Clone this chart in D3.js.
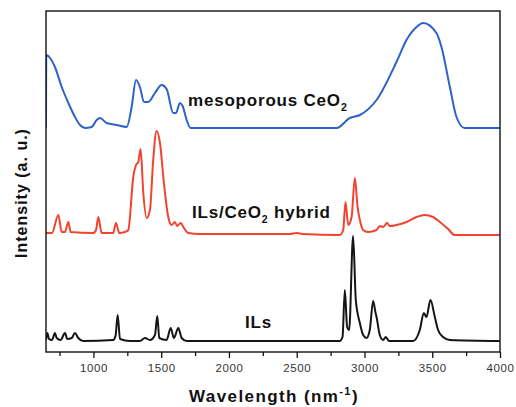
<!DOCTYPE html>
<html><head><meta charset="utf-8">
<script src="https://cdn.jsdelivr.net/npm/d3@7"></script>
<style>body{margin:0;background:#fff}svg{display:block}</style>
</head><body>
<script>
// Wavenumber values and relative intensity (a.u.)
const ceo2 = [[650,224],[652,297],[680,294],[716,285],[766,265],[815,249],[864,235],[901,227],[938,224],[987,225],[1024,232],[1048,234],[1098,229],[1171,227],[1245,225],[1282,245],[1314,272],[1343,265],[1373,250],[1404,250],[1454,259],[1503,267],[1540,263],[1589,239],[1609,239],[1638,249],[1658,246],[1688,232],[1717,224],[1786,224],[2155,224],[2523,224],[2794,224],[2892,234],[2966,237],[3089,252],[3236,290],[3310,312],[3384,325],[3433,329],[3531,319],[3568,305],[3630,265],[3679,235],[3740,224],[3998,224]];
const hybrid = [[650,119],[694,119],[741,137],[766,120],[790,120],[815,130],[832,120],[999,119],[1019,122],[1036,135],[1061,119],[1146,119],[1166,129],[1191,119],[1233,120],[1257,122],[1294,175],[1314,187],[1331,190],[1348,203],[1368,159],[1393,134],[1417,142],[1441,192],[1466,221],[1491,209],[1520,169],[1552,135],[1577,127],[1601,130],[1618,126],[1643,129],[1668,124],[1699,119],[1786,118],[2450,118],[2499,119],[2545,118],[2818,117],[2843,122],[2860,150],[2880,127],[2905,135],[2929,174],[2949,145],[2971,129],[2990,122],[3027,120],[3089,122],[3113,126],[3138,125],[3167,129],[3187,126],[3236,127],[3310,130],[3384,135],[3445,137],[3506,135],[3556,130],[3617,123],[3666,117],[3998,117]];
const ils = [[650,12],[660,19],[672,13],[694,12],[716,19],[729,14],[758,12],[790,19],[807,13],[840,14],[864,19],[888,14],[925,11],[1146,12],[1163,16],[1179,37],[1196,13],[1270,11],[1343,11],[1380,14],[1417,12],[1454,17],[1471,36],[1486,14],[1540,12],[1570,24],[1594,14],[1626,24],[1651,14],[1688,11],[2818,11],[2838,15],[2855,62],[2872,25],[2887,22],[2916,116],[2936,52],[2966,29],[2990,17],[3015,14],[3039,22],[3064,51],[3082,39],[3089,35],[3113,17],[3138,12],[3157,15],[3182,11],[3359,11],[3408,22],[3438,39],[3457,35],[3487,52],[3519,35],[3543,22],[3580,15],[3630,12],[3998,11]];
const xMajorTicks = [1000,1500,2000,2500,3000,3500,4000];
const xMinorTicks = [750,1250,1750,2250,2750,3250,3750];
const seriesNames = ["mesoporous CeO","ILs/CeO","ILs"];
const xDomain = [650,4000];
const yDomain = [0,341];

const W=516,H=407;
const m={l:46,r:16,t:11,b:55};
const svg=d3.select("body").append("svg").attr("width",W).attr("height",H);
const x=d3.scaleLinear().domain(xDomain).range([m.l,W-m.r]);
const y=d3.scaleLinear().domain(yDomain).range([H-m.b,m.t]);
const line=d3.line().x(d=>x(d[0])).y(d=>y(d[1])).curve(d3.curveMonotoneX);

svg.append("clipPath").attr("id","c").append("rect")
  .attr("x",m.l).attr("y",m.t).attr("width",W-m.l-m.r).attr("height",H-m.t-m.b);
const g=svg.append("g").attr("clip-path","url(#c)");
[[ceo2,"#2d62c6"],[hybrid,"#f2432f"],[ils,"#151515"]].forEach(([d,c])=>{
  g.append("path").datum(d).attr("d",line).attr("fill","none")
   .attr("stroke",c).attr("stroke-width",2).attr("stroke-linejoin","round");
});

// frame
svg.append("rect").attr("x",m.l).attr("y",m.t).attr("width",W-m.l-m.r).attr("height",H-m.t-m.b)
  .attr("fill","none").attr("stroke","#111").attr("stroke-width",1.4);

// x axis
const ax=svg.append("g").attr("transform",`translate(0,${H-m.b})`)
  .call(d3.axisBottom(x).tickValues(xMajorTicks).tickSize(6).tickPadding(6).tickFormat(d3.format("d")));
ax.select(".domain").remove();
ax.selectAll("line").attr("stroke","#111").attr("stroke-width",1.3);
ax.selectAll("text").attr("font-family","Liberation Sans, Arial, sans-serif").attr("font-size",11.5)
  .attr("fill","#333").attr("letter-spacing","0.6px");
const axm=svg.append("g").attr("transform",`translate(0,${H-m.b})`)
  .call(d3.axisBottom(x).tickValues(xMinorTicks).tickSize(4).tickFormat(""));
axm.select(".domain").remove();
axm.selectAll("line").attr("stroke","#111").attr("stroke-width",1.3);

const font="Liberation Sans, Arial, sans-serif";
// axis titles
const xt=svg.append("text").attr("x",(m.l+W-m.r)/2+1).attr("y",402).attr("text-anchor","middle")
  .attr("font-family",font).attr("font-weight","bold").attr("font-size",17).attr("letter-spacing","1.4px").attr("fill","#111");
xt.append("tspan").text("Wavelength\u00a0(nm");
xt.append("tspan").attr("font-size",11).attr("dy",-7).text("-1");
xt.append("tspan").attr("dy",7).text(")");

svg.append("text").attr("transform","translate(27,193) rotate(-90)").attr("text-anchor","middle")
  .attr("font-family",font).attr("font-weight","bold").attr("font-size",16).attr("letter-spacing","1px")
  .attr("fill","#111").text("Intensity (a. u.)");

// series labels
function label(xp,yp,main,sub,rest){
  const t=svg.append("text").attr("x",xp).attr("y",yp).attr("font-family",font).attr("font-weight","bold")
    .attr("font-size",17).attr("letter-spacing","0.8px").attr("fill","#111");
  t.append("tspan").text(main);
  if(sub){t.append("tspan").attr("font-size",10.5).attr("dy",5).text(sub);
    if(rest) t.append("tspan").attr("dy",-5).text(rest);}
}
label(188,106,seriesNames[0],"2","");
label(192,218,seriesNames[1],"2"," hybrid");
label(245,328,seriesNames[2]);
</script>
</body></html>
